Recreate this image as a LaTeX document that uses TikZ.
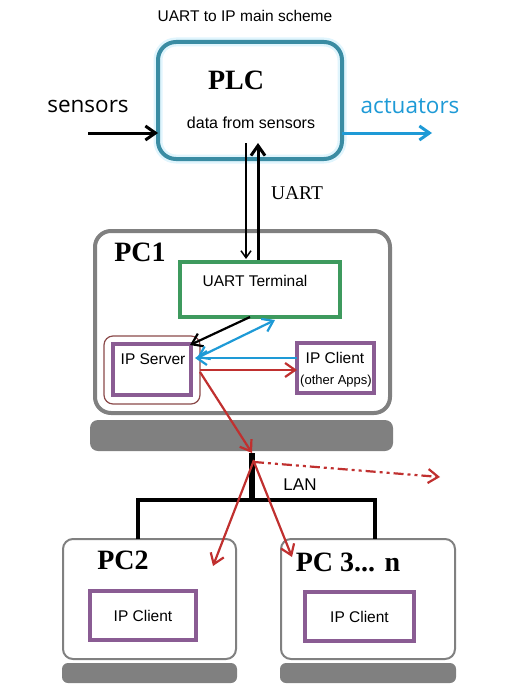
\documentclass[tikz,border=0pt]{standalone}
\usepackage{fontspec}
\setmainfont{Liberation Serif}
\newfontfamily\arialfont{Liberation Sans}
\newfontfamily\uifont{Open Sans}
\usepackage{xcolor}
\usepackage{tikz}
\usetikzlibrary{arrows.meta}

\definecolor{plcteal}{HTML}{3A8CA3}
\definecolor{actblue}{HTML}{1E9AD6}
\definecolor{termgreen}{HTML}{3E9A5E}
\definecolor{apppurple}{HTML}{8A5C93}
\definecolor{netred}{HTML}{C0302F}
\definecolor{pcgray}{HTML}{808080}
\definecolor{srvbrown}{HTML}{8B4A4A}

\begin{document}
\begin{tikzpicture}[x=1pt, y=-1pt,
    >={Straight Barb[length=10pt,width=14pt]},
    box/.style={draw, inner sep=0pt, outer sep=0pt},
    plcbox/.style={box, draw=plcteal, line width=4pt, rounded corners=18pt,
        preaction={draw=cyan!12, line width=9pt}},
    pcframe/.style={box, draw=pcgray, line width=4pt, rounded corners=16pt},
    pcsmall/.style={box, draw=pcgray, line width=2pt, rounded corners=10pt},
    pcbase/.style={box, draw=none, fill=pcgray, rounded corners=8pt},
    appbox/.style={box, draw=apppurple, line width=4pt},
    bigname/.style={font=\fontsize{28}{30}\selectfont\bfseries},
    arial/.style={font=\arialfont\fontsize{15.5}{18}\selectfont},
    uitext/.style={font=\uifont\fontsize{22.5}{26}\selectfont},
    redarrow/.style={->, draw=netred, line width=2.2pt}
]
    \useasboundingbox (0,0) rectangle (526,698);

    % Title
    \node[arial] (title) at (245,16) {UART to IP main scheme};

    % PLC
    \node[plcbox, minimum width=184, minimum height=117] (plc) at (250,100.5) {};
    \node[bigname] (plcname) at (236,80) {PLC};
    \node[arial, font=\arialfont\fontsize{16}{18}\selectfont] (plcdata) at (251,123) {data from sensors};

    % Sensors and actuators
    \node[uitext] (sensors) at (88,106) {sensors};
    \node[uitext, text=actblue] (actuators) at (410,106) {actuators};
    \coordinate (sensin) at (88,133);
    \coordinate (actout) at (432,133);
    \draw[->, line width=3pt] (sensin) -- (sensin -| plc.west);
    \draw[->, line width=3pt, actblue] (actout -| plc.east) -- (actout);

    % PC1
    \node[pcframe, minimum width=295, minimum height=182] (pc1) at (242.5,322) {};
    \node[pcbase, minimum width=303, minimum height=31] (pc1base) at (241.5,435.5) {};
    \node[bigname] (pc1name) at (140,252) {PC1};

    \node[box, draw=termgreen, line width=4pt, minimum width=160, minimum height=55] (uart) at (260,289.5) {};
    \node[arial] (uartname) at (255,281) {UART Terminal};

    \node[box, draw=srvbrown, line width=1.2pt, rounded corners=9pt, minimum width=96, minimum height=68] (srvout) at (152,370) {};
    \node[appbox, minimum width=78, minimum height=51] (srv) at (152,369) {};
    \node[arial] (srvname) at (153,359) {IP Server};

    \node[appbox, minimum width=77, minimum height=50] (cli) at (335.5,368) {};
    \node[arial] (cliname) at (335,358) {IP Client};
    \node[arial, font=\arialfont\fontsize{13}{15}\selectfont] (cliapps) at (336,381) {(other Apps)};

    % UART link
    \coordinate (rxtop) at (246,143);
    \coordinate (txtop) at (258,143);
    \draw[-{Straight Barb[length=7pt,width=10pt]}, line width=1.5pt] (rxtop) -- ([yshift=3pt]rxtop |- uart.north);
    \draw[->, line width=3pt] ([yshift=2pt]txtop |- uart.north) -- (txtop);
    \node[font=\fontsize{19.5}{22}\selectfont] (uartlink) at (297,193) {UART};

    % Data flow inside PC1
    \draw[->, line width=2.2pt] ([xshift=-10pt]uart.south) -- ([xshift=-10pt,yshift=-9pt]srvout.north east);
    \draw[<->, line width=2.2pt, actblue] ([xshift=6pt,yshift=11pt]srv.east) -- ([xshift=15pt,yshift=-3pt]uart.south);
    \draw[->, line width=2.2pt, actblue] ([yshift=10pt]cli.west) -- ([xshift=4pt,yshift=10pt]cli.west -| srv.east);
    \draw[redarrow] (srvout.east) -- (srvout.east -| cli.west);

    % LAN
    \coordinate (lantop) at (252,453);
    \coordinate (lanhub) at (254,462);
    \coordinate (lanmid) at (252,500);
    \coordinate (lanleft) at (138,500);
    \coordinate (lanright) at (375,500);
    \coordinate (lanout) at (440,477);
    \draw[redarrow] ([yshift=-2pt]srvout.east) -- (lantop);
    \draw[line width=6pt] (lantop) -- (lanmid);
    \node[arial, font=\arialfont\fontsize{17}{19}\selectfont] (lanname) at (300,485) {LAN};

    % PC2 and PC3...n
    \node[pcsmall, minimum width=173, minimum height=120] (pc2) at (149.5,599) {};
    \node[pcbase, minimum width=175, minimum height=20, rounded corners=6pt] (pc2base) at (149.5,673) {};
    \node[bigname] (pc2name) at (123,560) {PC2};
    \node[appbox, arial, minimum width=106, minimum height=49] (pc2cli) at (143,615.5) {IP Client};

    \node[pcsmall, minimum width=174, minimum height=120] (pc3) at (368,599) {};
    \node[pcbase, minimum width=176, minimum height=20, rounded corners=6pt] (pc3base) at (368,673) {};
    \node[bigname] (pc3name) at (348,562) {PC 3... n};
    \node[appbox, arial, minimum width=109, minimum height=49] (pc3cli) at (359.5,616.5) {IP Client};

    \draw[line width=4pt] (lanleft |- pc2.north) -- (lanleft) -- (lanright) -- (lanright |- pc3.north);

    % Packets on the LAN
    \draw[redarrow, dash pattern=on 10pt off 4pt on 3pt off 4pt on 3pt off 4pt] (lanhub) -- (lanout);
    \draw[redarrow] ([yshift=2pt]lanhub) -- ([xshift=-23pt,yshift=-27pt]pc2.north east);
    \draw[redarrow] (lanhub) -- ([xshift=11pt,yshift=-18pt]pc3.north west);
\end{tikzpicture}
\end{document}
